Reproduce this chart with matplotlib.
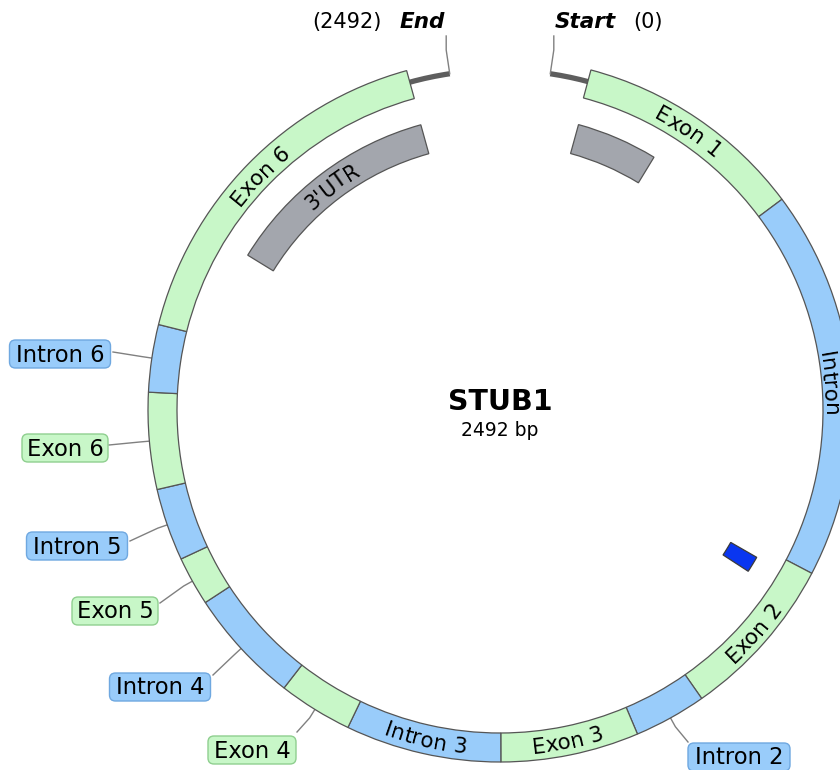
import numpy as np
import matplotlib
matplotlib.use("Agg")
import matplotlib.pyplot as plt
from matplotlib.patches import Wedge, FancyBboxPatch
from matplotlib.font_manager import FontProperties, findfont, get_font

# ---- data (bp positions) ----
SEQ_NAME, SEQ_LEN = "STUB1", 2492
seg_names = ["Exon 1", "Intron 1", "Exon 2", "Intron 2", "Exon 3", "Intron 3", "Exon 4",
             "Intron 4", "Exon 5", "Intron 5", "Exon 6", "Intron 6", "Exon 6"]
seg_start = [47, 325, 793, 992, 1079, 1245, 1432, 1521, 1659, 1718, 1805, 1921, 2002]
seg_end = [325, 793, 992, 1079, 1245, 1432, 1521, 1659, 1718, 1805, 1921, 2002, 2442]
# text drawn on the ring (None -> external boxed label)
seg_ring_text = ["Exon 1", "Intron", "Exon 2", None, "Exon 3", "Intron 3", None,
                 None, None, None, None, None, "Exon 6"]
feat_names = ["5'UTR", "3'UTR", "misc"]
feat_start = [50, 2129, 809]
feat_end = [166, 2441, 832]
feat_ring_text = [None, "3'UTR", None]

# ---- style / layout ----
W, H, DPI = 840, 770, 100
CX, CY = 500, 410
R_OUT, R_IN = 352, 323
F_OUT, F_IN = 296, 266
GAP = 8.5                      # half gap at the top, degrees
EXON, INTRON, GREY, BLUE = "#c8f7c8", "#99ccfa", "#a3a6ad", "#0a36f0"
EDGE = "#555555"
LEAD = "#808080"
FONT = "DejaVu Sans"
# external label boxes: segment index, box centre, box width, leader anchor (px)
ext_labels = [(11, 60, 354, 101, 113, 352), (10, 65, 448, 86, 109, 445),
              (9, 77, 546, 101, 130, 541), (8, 115, 611, 86, 160, 603),
              (7, 160, 687, 101, 213, 675), (6, 252, 750, 88, 297, 732),
              (3, 739, 757, 102, 688, 742)]

def ang(bp):
    return GAP + bp / SEQ_LEN * (360 - 2 * GAP)

def pt(theta, r):
    t = np.radians(theta)
    return CX + r * np.sin(t), CY - r * np.cos(t)

fig = plt.figure(figsize=(W / DPI, H / DPI), dpi=DPI)
ax = fig.add_axes([0, 0, 1, 1])
ax.set_xlim(0, W); ax.set_ylim(H, 0); ax.axis("off")

def arc_text(s, theta_mid, r_mid, fs, color="black"):
    font = get_font(findfont(FontProperties(family=FONT)))
    font.set_size(fs, DPI)
    adv = [font.load_char(ord(c)).linearHoriAdvance / 65536 for c in s]
    total = sum(adv)
    em = fs * DPI / 72
    flip = 90 < theta_mid % 360 < 270
    r_base = r_mid + 0.36 * em if flip else r_mid - 0.36 * em
    pos = -total / 2
    for c, a in zip(s, adv):
        off = np.degrees((pos + a / 2) / r_base)
        th = theta_mid - off if flip else theta_mid + off
        x, y = pt(th, r_base)
        rot = 180 - th if flip else -th
        ax.text(x, y, c, fontsize=fs, family=FONT, rotation=rot, rotation_mode="anchor",
                ha="center", va="baseline", color=color, zorder=6)
        pos += a

# backbone
th = np.linspace(ang(0), ang(SEQ_LEN), 400)
bx, by = pt(th, 340)
ax.plot(bx, by, color="#5e5e5e", lw=3.8, solid_capstyle="butt", zorder=1)

# ring segments
for i, (s, e) in enumerate(zip(seg_start, seg_end)):
    col = EXON if seg_names[i].startswith("Exon") else INTRON
    ax.add_patch(Wedge((CX, CY), R_OUT, ang(s) - 90, ang(e) - 90, width=R_OUT - R_IN,
                       fc=col, ec=EDGE, lw=0.9, zorder=3))
    if seg_ring_text[i]:
        r_txt = (R_OUT + R_IN) / 2
        if seg_ring_text[i] == "Intron":
            r_txt -= 6
        arc_text(seg_ring_text[i], (ang(s) + ang(e)) / 2, r_txt, 15.5)

# inner features
for i, (s, e) in enumerate(zip(feat_start, feat_end)):
    col = BLUE if feat_names[i] == "misc" else GREY
    ax.add_patch(Wedge((CX, CY), F_OUT, ang(s) - 90, ang(e) - 90, width=F_OUT - F_IN,
                       fc=col, ec="#3a3a3a" if col == BLUE else EDGE, lw=0.9, zorder=3))
    if feat_ring_text[i]:
        arc_text(feat_ring_text[i], (ang(s) + ang(e)) / 2, (F_OUT + F_IN) / 2, 15)

# external labels
for idx, bxc, byc, bw, lx, ly in ext_labels:
    name = seg_names[idx]
    exon = name.startswith("Exon")
    fc = EXON if exon else INTRON
    ec = "#8fcf8f" if exon else "#6fa8e0"
    tm = (ang(seg_start[idx]) + ang(seg_end[idx])) / 2
    x0, y0 = pt(tm, R_OUT)
    x1, y1 = pt(tm, R_OUT + 10)
    bh = 28
    ax.plot([x0, x1, lx], [y0, y1, ly], color=LEAD, lw=1.0, zorder=2)
    ax.add_patch(FancyBboxPatch((bxc - bw / 2, byc - bh / 2), bw, bh,
                                boxstyle="round,pad=0,rounding_size=6",
                                fc=fc, ec=ec, lw=1.0, zorder=4))
    ax.text(bxc, byc + 1, name, fontsize=16.3, family=FONT, ha="center", va="center", zorder=5)

# start / end markers
for bp in [0, SEQ_LEN]:
    t = ang(bp)
    xa, ya = pt(t, 340)
    xb, yb = pt(t, 364)
    ax.plot([xa, xb, xb], [ya, yb, 36], color=LEAD, lw=1.0, zorder=2)
ax.text(555, 22, "Start", fontsize=15.5, family=FONT, weight="bold", style="italic",
        ha="left", va="center")
ax.text(633, 22, "(0)", fontsize=15, family=FONT, ha="left", va="center")
ax.text(445, 22, "End", fontsize=15.5, family=FONT, weight="bold", style="italic",
        ha="right", va="center")
ax.text(382, 22, f"({SEQ_LEN})", fontsize=15, family=FONT, ha="right", va="center")

# centre title
ax.text(CX, 402, SEQ_NAME, fontsize=20.5, family=FONT, weight="bold", ha="center", va="center")
ax.text(CX, 431, f"{SEQ_LEN} bp", fontsize=13.5, family=FONT, ha="center", va="center")

fig.savefig("out.png", dpi=DPI)
